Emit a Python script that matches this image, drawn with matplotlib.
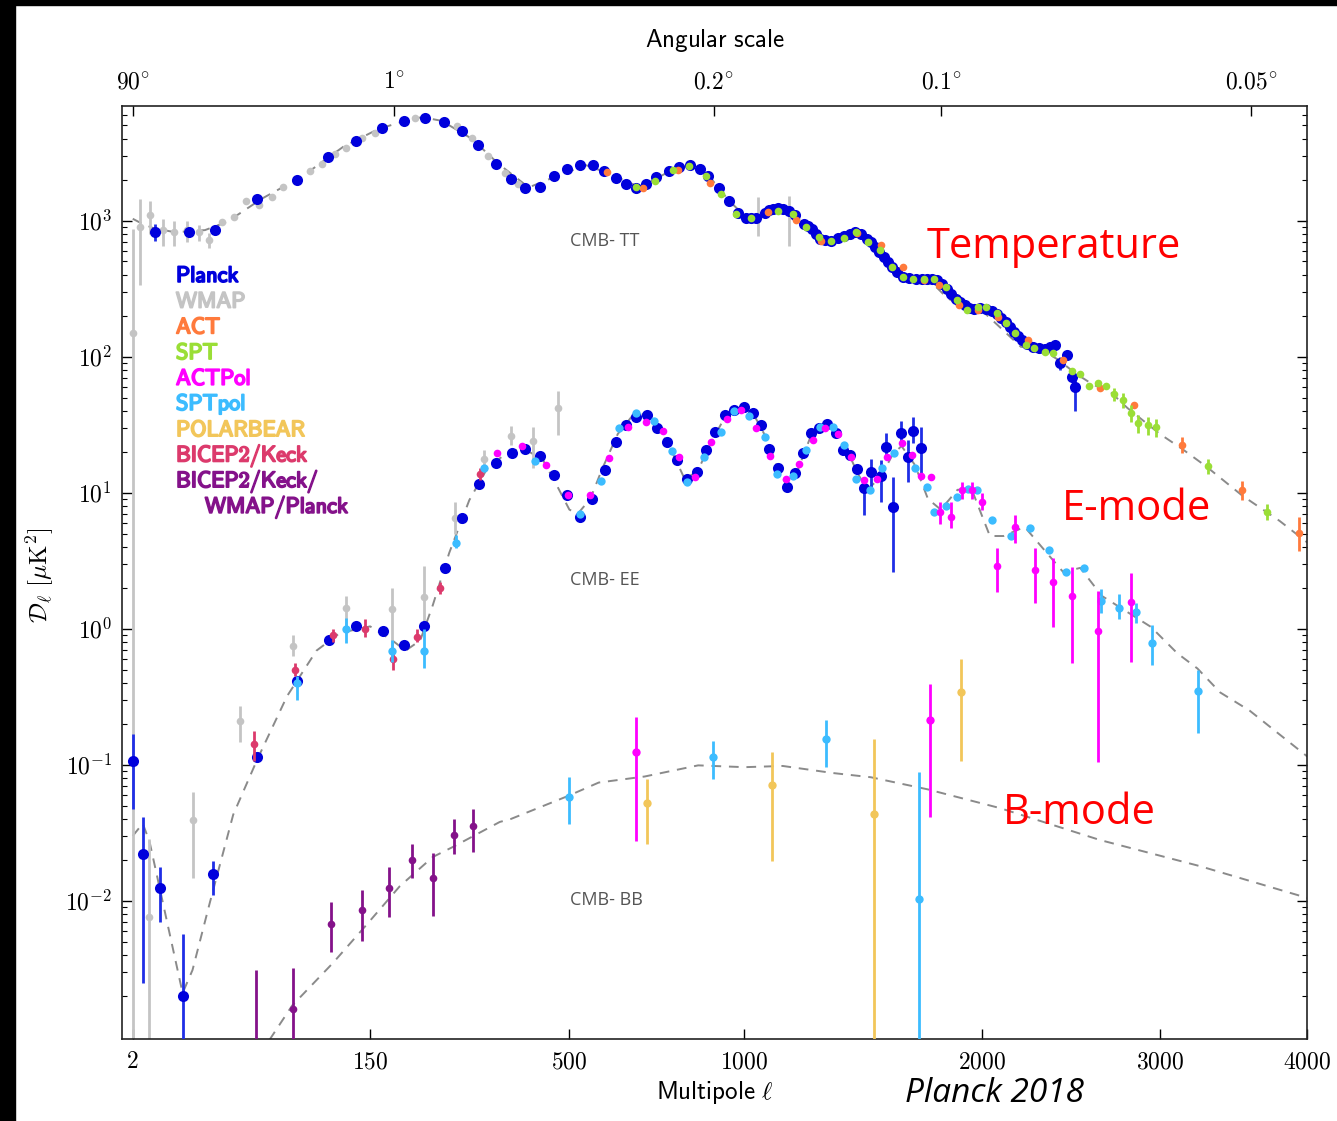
import numpy as np
import matplotlib
matplotlib.use("Agg")
from matplotlib import pyplot as plt
from matplotlib import patheffects
from matplotlib.patches import Rectangle
from matplotlib.ticker import NullLocator

plt.rcParams['mathtext.fontset'] = 'cm'

W, H = 1337, 1121

# ---------------- theory curves (dashed) ----------------
tt_theory_ell = [2, 3, 5, 10, 20, 30, 50, 80, 120, 160, 200, 220, 250, 300, 350, 410, 460, 540, 600, 680,
                 750, 820, 880, 950, 1010, 1050, 1120, 1200, 1280, 1320, 1430, 1500, 1580, 1650, 1750, 1830,
                 1920, 1990, 2080, 2200, 2300, 2400, 2500, 2600, 2700, 2800, 3000, 3140, 3300, 3540, 3800, 4000]
tt_theory = [1030, 960, 880, 820, 850, 980, 1450, 2100, 3500, 4700, 5500, 5750, 5400, 4000, 2600, 1750, 2050,
             2550, 2200, 1750, 2200, 2550, 2200, 1400, 1050, 1060, 1220, 1020, 760, 730, 810, 630, 420, 370,
             360, 270, 225, 225, 170, 118, 115, 95, 75, 62, 55, 42, 27, 21, 15.5, 9.5, 6.2, 4.3]

ee_theory_ell = [2, 3.3, 4.4, 7.9, 12.2, 15.4, 22, 33, 47, 68, 93, 116, 150, 178, 196, 217, 236, 262, 296, 330,
                 370, 400, 440, 470, 500, 520, 550, 580, 620, 660, 700, 740, 780, 810, 850, 890, 940, 990, 1030,
                 1080, 1120, 1150, 1190, 1240, 1290, 1330, 1380, 1430, 1470, 1530, 1580, 1620, 1680, 1740, 1800,
                 1880, 1950, 2040, 2110, 2220, 2355, 2430, 2525, 2650, 2945, 3110, 3240, 3390, 3590, 4000]
ee_theory = [0.030, 0.037, 0.027, 0.0072, 0.0021, 0.0031, 0.0097, 0.043, 0.11, 0.32, 0.69, 0.93, 1.04, 0.82,
             0.69, 0.82, 1.49, 3.6, 8.8, 15.5, 20, 21, 17.5, 11.5, 7.5, 7.0, 9, 15, 27, 37, 38, 28, 18, 12.5,
             14.5, 23, 37, 42, 39, 25, 15, 11.5, 14, 25, 31, 30, 22, 14, 10.5, 13, 19, 22, 16, 9, 7.5, 10.5,
             10.5, 4.8, 4.8, 5.6, 3.4, 2.6, 2.8, 1.74, 1.03, 0.66, 0.51, 0.34, 0.25, 0.115]

bb_theory_ell = [55, 72, 109, 146, 188, 236, 269, 352, 374, 497, 571, 693, 851, 1002, 1138, 1329, 1486, 1738,
                 2092, 2638, 3255, 4000]
bb_theory = [0.00095, 0.0017, 0.0035, 0.0067, 0.0128, 0.021, 0.025, 0.038, 0.040, 0.059, 0.074, 0.082, 0.099,
             0.096, 0.098, 0.087, 0.081, 0.066, 0.048, 0.028, 0.018, 0.0105]

# ---------------- TT data ----------------
planck_tt_ell = [5.3, 14.1, 24.1, 47, 76, 104, 134, 165, 194, 224,
                 253, 284, 312, 344, 373, 403, 434, 465, 495, 524,
                 556, 584, 614, 642, 670, 697, 726, 762, 792, 825,
                 857, 883, 916, 950, 981, 1008, 1044, 1073, 1104, 1140,
                 1185, 1218, 1248, 1281, 1321, 1377, 1419, 1470, 1505, 1542,
                 1579, 1625, 1686, 1736, 1783, 1830, 1872, 1914, 1963, 2022,
                 2077, 2120, 2164, 2208, 2263, 2329, 2384, 2414, 2451, 2480,
                 2495]
planck_tt = [817, 817, 850, 1450, 2000, 2950, 3870, 4810, 5420, 5700,
             5330, 4570, 3610, 2620, 2030, 1746, 1760, 2140, 2410, 2580,
             2540, 2330, 2070, 1870, 1746, 1870, 2100, 2330, 2490, 2540,
             2410, 2140, 1746, 1400, 1145, 1050, 1050, 1145, 1225, 1225,
             1090, 950, 869, 735, 713, 776, 821, 735, 637, 538,
             454, 384, 373, 373, 363, 316, 267, 238, 225, 225,
             207, 179, 152, 132, 118, 114, 121, 89, 102, 71,
             60]
# the finer high-ell bins that make the thick band
planck_tt_fine_ell = [1026, 1088, 1122, 1162, 1233, 1265, 1300, 1350, 1398, 1445,
                      1488, 1523, 1560, 1600, 1655, 1711, 1760, 1806, 1851, 1893,
                      1938, 1992, 2050, 2098, 2142, 2186, 2235, 2296, 2356]
planck_tt_fine = [1040, 1190, 1235, 1170, 905, 800, 720, 740, 800, 790,
                  690, 585, 495, 415, 375, 370, 372, 340, 290, 250,
                  228, 228, 218, 192, 165, 141, 124, 115, 118]
planck_tt_bar_ell = [5.3, 2414, 2495]
planck_tt_bar_lo = [713, 80, 40]
planck_tt_bar_hi = [950, 100, 75]

wmap_tt_ell = [2, 2.9, 4.4, 7.0, 9.7, 13.5, 17.7, 21.6, 27.3, 33.3, 40, 47.8, 56.9, 65, 87, 98, 111, 123,
               140, 156, 209, 275, 301, 330, 362, 388, 1051, 1163]
wmap_tt = [150, 890, 1107, 845, 817, 845, 817, 725, 967, 1070, 1400, 1310, 1500, 1775, 2330, 2620, 3100,
           3430, 4060, 4420, 5660, 4980, 4060, 3000, 2250, 1870, 1060, 1150]
wmap_tt_bar_ell = [2, 2.9, 4.4, 7.0, 9.7, 13.5, 17.7, 21.6, 1051, 1163]
wmap_tt_bar_lo = [1e-5, 333, 800, 655, 655, 690, 713, 623, 776, 645]
wmap_tt_bar_hi = [860, 1430, 1400, 1034, 1000, 1000, 920, 803, 1480, 1525]

act_tt_ell = [591, 688, 790, 890, 1086, 1188, 1285, 1428, 1530, 1625, 1724, 1790, 1887, 1978, 2082, 2236,
              2430, 2640, 2841, 3140, 3541, 3940]
act_tt = [2260, 1726, 2355, 1893, 1150, 1010, 705, 803, 656, 452, 363, 333, 238, 219, 194, 132, 94, 58.5,
          44, 22.3, 10.4, 5.08]
act_tt_bar_ell = [3140, 3541, 3940]
act_tt_bar_lo = [19.5, 8.9, 3.7]
act_tt_bar_hi = [25.5, 12.2, 6.6]

spt_tt_ell = [669, 721, 773, 824, 875, 924, 973, 1024, 1121, 1177,
              1226, 1276, 1321, 1377, 1426, 1476, 1524, 1579, 1625, 1672,
              1724, 1770, 1826, 1876, 1925, 1978, 2022, 2077, 2123, 2170,
              2227, 2272, 2329, 2374, 2477, 2525, 2574, 2625, 2675, 2723,
              2773, 2823, 2868, 2927, 2978, 3310, 3711]
spt_tt = [1755, 1942, 2366, 2535, 2140, 1570, 1120, 1040, 1184, 1120,
          893, 754, 713, 738, 817, 690, 603, 452, 382, 373,
          373, 373, 322, 259, 219, 230, 230, 208, 176, 150,
          121, 115, 108, 106, 79, 75, 61, 63.5, 60.6, 53,
          48, 38.5, 32.4, 31.3, 30.3, 15.7, 7.2]
spt_tt_bar_ell = [2723, 2773, 2823, 2868, 2927, 2978, 3310, 3711]
spt_tt_bar_lo = [47, 42, 33, 27.5, 26.5, 25.5, 13.8, 6.3]
spt_tt_bar_hi = [59, 54, 44, 37, 36, 35, 17.8, 8.2]

# ---------------- EE data ----------------
planck_ee_ell = [2, 3.3, 6.3, 12.3, 23.4, 47, 76, 105, 134, 166,
                 194, 222, 255, 283, 313, 344, 375, 403, 434, 464,
                 494, 526, 554, 586, 614, 643, 669, 698, 727, 758,
                 785, 815, 846, 876, 906, 938, 968, 1001, 1033, 1060,
                 1090, 1121, 1153, 1185, 1214, 1243, 1274, 1307, 1341, 1369,
                 1401, 1430, 1459, 1488, 1528, 1553, 1584, 1617, 1647, 1672,
                 1707]
planck_ee = [0.106, 0.0221, 0.0124, 0.0020, 0.0157, 0.115, 0.41, 0.83, 1.05, 0.97,
             0.76, 1.05, 2.8, 6.5, 11.5, 16.6, 19.6, 20.8, 18.5, 13.4,
             9.6, 6.65, 8.97, 14.7, 23.4, 31.3, 35.7, 37.5, 29.9, 23.6,
             17.3, 12.5, 14.2, 20.5, 27.7, 37.5, 40.4, 42.7, 38.8, 31.3,
             21.1, 15.1, 11.0, 13.9, 19.6, 27.6, 29.8, 32.2, 27.3, 20.5,
             18.9, 14.9, 10.8, 14.1, 13.2, 21.6, 7.8, 27.3, 18.4, 28.5,
             21.2]
planck_ee_bar_ell = [2, 3.3, 6.3, 12.3, 23.4, 1459, 1488, 1528, 1553, 1584, 1617, 1647, 1672, 1707]
planck_ee_bar_lo = [0.047, 0.0025, 0.0070, 1e-5, 0.0111, 6.9, 10.5, 8.6, 17.8, 2.6, 22.4, 12.0, 23.2, 13.4]
planck_ee_bar_hi = [0.167, 0.041, 0.0178, 0.0057, 0.0197, 13.1, 17.8, 17.3, 27.3, 13.1, 33.5, 24.5, 35.7, 30.6]

sptpol_ee_ell = [76, 123, 178, 222, 274, 323, 423, 526, 576, 623,
                 670, 720, 770, 815, 870, 925, 966, 1017, 1073, 1118,
                 1175, 1225, 1278, 1332, 1375, 1425, 1485, 1536, 1585, 1682,
                 1735, 1770, 1826, 1876, 1931, 1975, 2050, 2149, 2247, 2350,
                 2443, 2545, 2644, 2749, 2852, 2951, 3245]
sptpol_ee = [0.40, 1.0, 0.69, 0.69, 4.3, 15.3, 17, 7.0, 12.2, 29.9,
             38.3, 33.5, 20.3, 11.9, 18.2, 28.1, 39.7, 36.3, 25.7, 13.7,
             13.2, 20.5, 30.6, 30.6, 22.4, 12.5, 10.4, 15.2, 19.4, 15.2,
             11.0, 7.2, 8.0, 9.3, 10.6, 10.5, 6.3, 4.8, 5.5, 3.8,
             2.6, 2.8, 1.6, 1.43, 1.33, 0.79, 0.35]
sptpol_ee_bar_ell = [76, 123, 178, 222, 274, 2644, 2749, 2852, 2951, 3245]
sptpol_ee_bar_lo = [0.30, 0.79, 0.57, 0.51, 3.9, 1.3, 1.18, 1.1, 0.54, 0.17]
sptpol_ee_bar_hi = [0.45, 1.19, 0.83, 0.99, 4.9, 1.95, 1.8, 1.54, 1.07, 0.5]

actpol_ee_ell = [347, 397, 448, 497, 550, 598, 648, 697, 745, 793,
                 841, 891, 943, 992, 1043, 1093, 1149, 1199, 1253, 1300,
                 1351, 1405, 1458, 1513, 1555, 1620, 1665, 1707, 1752, 1798,
                 1848, 1901, 1950, 2001, 2077, 2170, 2275, 2373, 2477, 2625,
                 2823]
actpol_ee = [19.6, 22.0, 15.9, 9.6, 9.6, 17.9, 30.6, 33.3, 28.5, 18.2,
             13.0, 23.6, 35.0, 40.8, 29.8, 18.5, 12.7, 16.3, 24.5, 29.9,
             27.2, 18.4, 12.4, 12.5, 18.4, 23.1, 19.0, 13.3, 13.0, 7.2,
             6.6, 10.4, 10.4, 8.6, 2.9, 5.6, 2.7, 2.2, 1.73, 0.96,
             1.58]
actpol_ee_bar_ell = [1798, 1848, 1901, 1950, 2001, 2077, 2170, 2275, 2373, 2477, 2625, 2823]
actpol_ee_bar_lo = [5.9, 5.5, 9.0, 9.0, 7.4, 1.87, 4.27, 1.55, 1.03, 0.56, 0.105, 0.57]
actpol_ee_bar_hi = [8.5, 8.6, 12.0, 12.0, 10.0, 3.93, 6.85, 3.93, 3.31, 2.84, 1.9, 2.57]

bicep_ee_ell = [45, 74, 109, 144, 179, 213, 248, 315]
bicep_ee = [0.142, 0.50, 0.90, 1.0, 0.60, 0.87, 2.0, 13.7]
bicep_ee_lo = [0.107, 0.45, 0.8, 0.87, 0.50, 0.8, 1.8, 12.3]
bicep_ee_hi = [0.177, 0.56, 1.0, 1.17, 0.68, 1.0, 2.2, 15.2]

wmap_ee_ell = [4.3, 15.4, 36.5, 73, 123, 178, 222, 271, 323, 373, 420, 474]
wmap_ee = [0.0076, 0.039, 0.21, 0.75, 1.42, 1.4, 1.72, 6.5, 17.7, 25.9, 24.1, 41.8]
wmap_ee_lo = [1e-5, 0.0147, 0.147, 0.63, 1.0, 0.6, 0.94, 5.0, 15.9, 22.4, 15.1, 26.4]
wmap_ee_hi = [0.0285, 0.063, 0.27, 0.9, 1.75, 2.0, 2.9, 8.6, 20.6, 30.8, 30.2, 55.7]

# ---------------- BB data ----------------
bkwp_bb_ell = [45.8, 72.7, 106.7, 140.6, 173.6, 205, 236.5, 270, 303]
bkwp_bb = [0.0005, 0.0016, 0.0068, 0.0085, 0.0124, 0.0201, 0.0146, 0.0306, 0.0352]
bkwp_bb_lo = [1e-5, 1e-5, 0.0042, 0.0051, 0.0076, 0.0148, 0.0078, 0.022, 0.0229]
bkwp_bb_hi = [0.0031, 0.0032, 0.0098, 0.012, 0.0178, 0.026, 0.0224, 0.0397, 0.0471]

sptpol_bb_ell = [500, 898, 1301, 1697]
sptpol_bb = [0.058, 0.114, 0.155, 0.0104]
sptpol_bb_lo = [0.0369, 0.079, 0.096, 1e-5]
sptpol_bb_hi = [0.081, 0.149, 0.215, 0.089]

actpol_bb_ell = [670, 1748]
actpol_bb = [0.124, 0.213]
actpol_bb_lo = [0.0275, 0.0416]
actpol_bb_hi = [0.223, 0.39]

polarbear_bb_ell = [699, 1098, 1498, 1899]
polarbear_bb = [0.052, 0.0716, 0.0437, 0.34]
polarbear_bb_lo = [0.026, 0.0195, 1e-5, 0.107]
polarbear_bb_hi = [0.078, 0.125, 0.155, 0.6]

# ---------------- ticks / legend ----------------
bottom_ticks = [2, 150, 500, 1000, 2000, 3000, 4000]
top_ticks = [2, 180, 900, 1800, 3600]
top_labels = [r'$90^{\circ}$', r'$1^{\circ}$', r'$0.2^{\circ}$', r'$0.1^{\circ}$', r'$0.05^{\circ}$']
y_ticks = [1e-2, 1e-1, 1, 10, 100, 1000]
y_labels = [r'$10^{-2}$', r'$10^{-1}$', r'$10^{0}$', r'$10^{1}$', r'$10^{2}$', r'$10^{3}$']

legend_names = ['Planck', 'WMAP', 'ACT', 'SPT', 'ACTPol', 'SPTpol', 'POLARBEAR', 'BICEP2/Keck',
                'BICEP2/Keck/', 'WMAP/Planck']

C_PLANCK = '#0000dc'
C_PLANCK_BAR = '#1f2ee6'
C_WMAP = '#c4c4c4'
C_ACT = '#ff7a3c'
C_SPT = '#9ade36'
C_ACTPOL = '#ff00ff'
C_SPTPOL = '#3cbcff'
C_POLARBEAR = '#f2c65a'
C_BICEP = '#dc3a6c'
C_BKWP = '#84128a'
legend_colors = [C_PLANCK, C_WMAP, C_ACT, C_SPT, C_ACTPOL, C_SPTPOL, C_POLARBEAR, C_BICEP, C_BKWP, C_BKWP]


def fwd(l):
    return np.power(np.clip(l, 1e-9, None), 0.45)


def inv(u):
    return np.power(np.clip(u, 0, None), 1 / 0.45)


def pts(ax, ell, d, color, ms, z):
    ax.plot(ell, d, 'o', ls='none', color=color, ms=ms, mew=0, zorder=z)


def bars(ax, ell, lo, hi, color, z, lw=2.0):
    ax.vlines(ell, lo, hi, colors=color, lw=lw, zorder=z)


def fx(x):
    return x / W


def fy(y):
    return 1 - y / H


def main():
    fig = plt.figure(figsize=(W / 100, H / 100), dpi=100)
    fig.patch.set_facecolor('white')
    ax = fig.add_axes([fx(121.7), fy(1039.3), (1307.3 - 121.7) / W, (1039.3 - 105.7) / H])
    ax.set_xscale('function', functions=(fwd, inv))
    ax.set_yscale('log')

    # theory
    dash = dict(color='#8a8a8a', lw=1.4, ls=(0, (5, 4)), zorder=1)
    ax.plot(tt_theory_ell, tt_theory, **dash)
    ax.plot(ee_theory_ell, ee_theory, **dash)
    ax.plot(bb_theory_ell, bb_theory, **dash)

    # WMAP
    bars(ax, wmap_tt_bar_ell, wmap_tt_bar_lo, wmap_tt_bar_hi, C_WMAP, 2)
    pts(ax, wmap_tt_ell, wmap_tt, C_WMAP, 5.5, 2)
    bars(ax, wmap_ee_ell, wmap_ee_lo, wmap_ee_hi, C_WMAP, 2)
    pts(ax, wmap_ee_ell, wmap_ee, C_WMAP, 5.5, 2)

    # Planck
    bars(ax, planck_tt_bar_ell, planck_tt_bar_lo, planck_tt_bar_hi, C_PLANCK_BAR, 3)
    pts(ax, planck_tt_ell, planck_tt, C_PLANCK, 8, 3)
    pts(ax, planck_tt_fine_ell, planck_tt_fine, C_PLANCK, 8, 3)
    bars(ax, planck_ee_bar_ell, planck_ee_bar_lo, planck_ee_bar_hi, C_PLANCK_BAR, 3)
    pts(ax, planck_ee_ell, planck_ee, C_PLANCK, 8, 3)

    # BICEP2/Keck
    bars(ax, bicep_ee_ell, bicep_ee_lo, bicep_ee_hi, C_BICEP, 4)
    pts(ax, bicep_ee_ell, bicep_ee, C_BICEP, 5.5, 4)
    bars(ax, bkwp_bb_ell, bkwp_bb_lo, bkwp_bb_hi, C_BKWP, 4)
    pts(ax, bkwp_bb_ell, bkwp_bb, C_BKWP, 5.5, 4)

    # SPTpol / ACTPol / POLARBEAR
    bars(ax, sptpol_ee_bar_ell, sptpol_ee_bar_lo, sptpol_ee_bar_hi, C_SPTPOL, 4)
    pts(ax, sptpol_ee_ell, sptpol_ee, C_SPTPOL, 6, 4)
    bars(ax, actpol_ee_bar_ell, actpol_ee_bar_lo, actpol_ee_bar_hi, C_ACTPOL, 5)
    pts(ax, actpol_ee_ell, actpol_ee, C_ACTPOL, 5.5, 5)
    bars(ax, sptpol_bb_ell, sptpol_bb_lo, sptpol_bb_hi, C_SPTPOL, 4)
    pts(ax, sptpol_bb_ell, sptpol_bb, C_SPTPOL, 6, 4)
    bars(ax, actpol_bb_ell, actpol_bb_lo, actpol_bb_hi, C_ACTPOL, 5)
    pts(ax, actpol_bb_ell, actpol_bb, C_ACTPOL, 6, 5)
    bars(ax, polarbear_bb_ell, polarbear_bb_lo, polarbear_bb_hi, C_POLARBEAR, 4)
    pts(ax, polarbear_bb_ell, polarbear_bb, C_POLARBEAR, 6, 4)

    # ACT / SPT temperature
    bars(ax, act_tt_bar_ell, act_tt_bar_lo, act_tt_bar_hi, C_ACT, 5)
    pts(ax, act_tt_ell, act_tt, C_ACT, 5.5, 5)
    bars(ax, spt_tt_bar_ell, spt_tt_bar_lo, spt_tt_bar_hi, C_SPT, 5)
    pts(ax, spt_tt_ell, spt_tt, C_SPT, 5.5, 5)

    ax.set_xlim(0.97, 4000)
    ax.set_ylim(9.6e-4, 6980)

    ax.set_xticks(bottom_ticks)
    ax.set_xticklabels(['$%d$' % t for t in bottom_ticks])
    ax.xaxis.set_minor_locator(NullLocator())
    ax.set_yticks(y_ticks)
    ax.set_yticklabels(y_labels)
    ax.tick_params(which='both', direction='in', top=False, right=True, labelsize=17)
    ax.tick_params(which='major', length=7, width=1)
    ax.tick_params(which='minor', length=3.5, width=0.8)
    ax.tick_params(axis='x', pad=7)
    ax.tick_params(axis='y', pad=7)
    for s in ax.spines.values():
        s.set_linewidth(1.2)
        s.set_color('#222222')

    ax2 = ax.twiny()
    ax2.set_xscale('function', functions=(fwd, inv))
    ax2.set_xlim(ax.get_xlim())
    ax2.set_xticks(top_ticks)
    ax2.set_xticklabels(top_labels)
    ax2.xaxis.set_minor_locator(NullLocator())
    ax2.tick_params(direction='in', length=7, width=1, pad=9, labelsize=17)
    for s in ax2.spines.values():
        s.set_visible(False)

    # axis titles
    fig.text(fx(715), fy(40), r'$\mathsf{Angular\ scale}$', fontsize=18, ha='center', va='center')
    fig.text(fx(715), fy(1093), r'$\mathsf{Multipole}\ \ell$', fontsize=18, ha='center', va='center')
    fig.text(fx(40), fy(575), r'$\mathcal{D}_\ell\ [\mu\mathrm{K}^2]$', fontsize=18, rotation=90,
             ha='center', va='center')

    # spectrum tags
    for txt, y in [('CMB- TT', 241), ('CMB- EE', 580), ('CMB- BB', 900)]:
        fig.text(fx(570), fy(y), txt, fontsize=13, color='#555555', family='Open Sans',
                 ha='left', va='center')

    # legend as colored text
    for i, (name, col) in enumerate(zip(legend_names, legend_colors)):
        x = 205 if i == 9 else 176
        fig.text(fx(x), fy(276 + 25.7 * i), r'$\mathsf{%s}$' % name, fontsize=16, color=col,
                 ha='left', va='center',
                 path_effects=[patheffects.withStroke(linewidth=1.3, foreground=col)])

    # red annotations
    red = dict(color='#ff0000', fontsize=30, family='Open Sans', ha='left', va='center')
    fig.text(fx(927), fy(247), 'Temperature', **red)
    fig.text(fx(1062), fy(509), 'E-mode', **red)
    fig.text(fx(1003), fy(813), 'B-mode', **red)
    fig.text(fx(905), fy(1094), 'Planck 2018', fontsize=24, style='italic', family='Open Sans',
             ha='left', va='center', color='black')

    # black frame remnants at the left and top edges
    fig.patches.append(Rectangle((0, 0), 15 / W, 1, transform=fig.transFigure, color='black', zorder=10))
    fig.patches.append(Rectangle((0, 1 - 5 / H), 1, 5 / H, transform=fig.transFigure, color='black',
                                 zorder=10))

    fig.savefig('out.png', dpi=100)


if __name__ == '__main__':
    main()
